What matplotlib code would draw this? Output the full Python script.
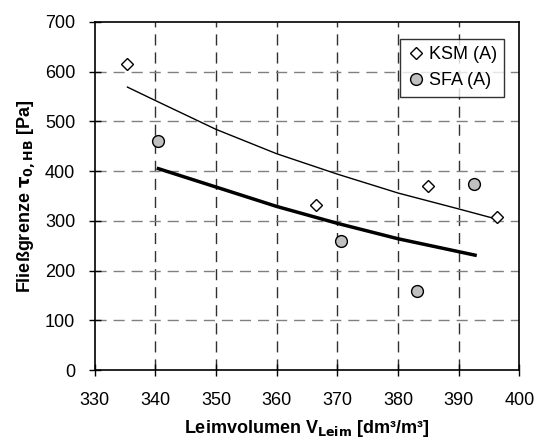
import matplotlib
matplotlib.use("Agg")
import matplotlib.pyplot as plt

plt.rcParams['font.family'] = ['Liberation Sans', 'DejaVu Sans']

# measured points
ksm_x = [335.4, 366.4, 384.9, 396.4]
ksm_y = [615, 331, 371, 307]
sfa_x = [340.5, 370.6, 383.2, 392.6]
sfa_y = [461, 260, 159, 374]

# trend lines
ksm_fit_x = [335.4, 340, 350, 360, 370, 380, 390, 395.5]
ksm_fit_y = [569, 542, 484, 435, 394, 356, 324, 306]
sfa_fit_x = [340.5, 350, 360, 370, 380, 392.7]
sfa_fit_y = [405, 368, 329, 295, 264, 231]

x_ticks = [330, 340, 350, 360, 370, 380, 390, 400]
y_ticks = [0, 100, 200, 300, 400, 500, 600, 700]

fig = plt.figure(figsize=(5.39, 4.46), dpi=100)
ax = fig.add_axes([0.1757, 0.1704, 0.7878, 0.7803])

for xt in x_ticks[1:-1]:
    ax.axvline(xt, color='#303030', lw=1, dashes=(8, 5), zorder=0)
for yt in y_ticks[1:-1]:
    ax.axhline(yt, color='#808080', lw=1, dashes=(8, 5), zorder=0)

ax.plot(ksm_fit_x, ksm_fit_y, color='black', lw=1, zorder=2)
ax.plot(sfa_fit_x, sfa_fit_y, color='black', lw=2.5, zorder=2)

ax.plot(ksm_x, ksm_y, 'D', ms=5.8, mfc='white', mec='black', mew=1,
        ls='none', label='KSM (A)', zorder=3)
ax.plot(sfa_x, sfa_y, 'o', ms=8.5, mfc='#c0c0c0', mec='black', mew=1,
        ls='none', label='SFA (A)', zorder=3)

ax.set_xlim(330, 400)
ax.set_ylim(0, 700)
ax.set_xticks(x_ticks)
ax.set_yticks(y_ticks)
ax.tick_params(labelsize=13, direction='inout', length=8, width=1,
               colors='black')
ax.tick_params(axis='x', pad=12)
ax.tick_params(axis='y', pad=10)

for s in ax.spines.values():
    s.set_linewidth(1.2)
    s.set_color('black')

ax.set_xlabel('Leimvolumen V$_{\\mathbf{Leim}}$ [dm³/m³]', fontsize=13,
              fontweight='bold', labelpad=6)
ax.set_ylabel('Fließgrenze $\\mathbf{\\tau}_{\\mathbf{0,HB}}$ [Pa]', fontsize=13,
              fontweight='bold', labelpad=6)

leg = ax.legend(loc='upper right', bbox_to_anchor=(0.964, 0.951), fontsize=13,
                frameon=True, fancybox=False, handletextpad=0.2,
                handlelength=1.0, borderpad=0.4, labelspacing=0.5,
                borderaxespad=0)
leg.get_frame().set_edgecolor('black')
leg.get_frame().set_linewidth(1)

fig.savefig('out.png', dpi=100)
